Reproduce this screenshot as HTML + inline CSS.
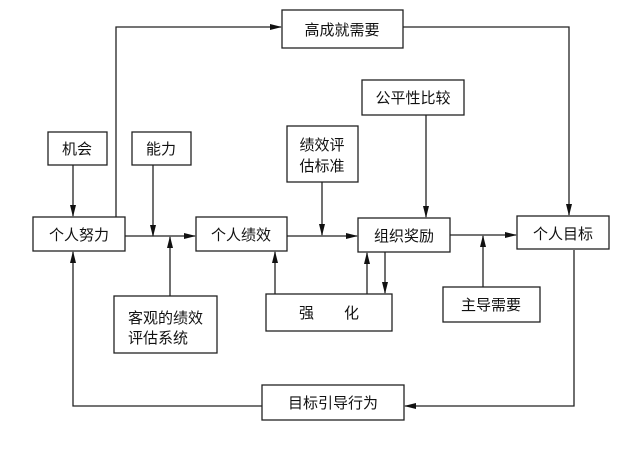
<!DOCTYPE html>
<html><head><meta charset="utf-8"><style>
html,body{margin:0;padding:0;background:#fff;}
svg text{font-family:"Liberation Sans","Noto Sans CJK SC",sans-serif;font-size:15px;fill:#111;}
</style></head><body>
<svg width="635" height="450" viewBox="0 0 635 450" xmlns="http://www.w3.org/2000/svg">
<defs><marker id="a" markerWidth="12" markerHeight="8" refX="11" refY="4" orient="auto" markerUnits="userSpaceOnUse"><path d="M0,1 L12,4 L0,7 Z" fill="#111"/></marker></defs>
<g fill="none" stroke="#222" stroke-width="1.3">
<rect x="282" y="10" width="121" height="38"/>
<rect x="48" y="132" width="59" height="33"/>
<rect x="132" y="132" width="59" height="33"/>
<rect x="287" y="126" width="71" height="56"/>
<rect x="362" y="80" width="102" height="35"/>
<rect x="33" y="217" width="92" height="34"/>
<rect x="196" y="217" width="91" height="34"/>
<rect x="358" y="218" width="92" height="34"/>
<rect x="517" y="216" width="92" height="33"/>
<rect x="114" y="296" width="103" height="57"/>
<rect x="266" y="294" width="126" height="37"/>
<rect x="443" y="287" width="97" height="35"/>
<rect x="262" y="385" width="142" height="35"/>
<path d="M116 217 V27 H281" marker-end="url(#a)"/>
<path d="M403 27 H569 V215" marker-end="url(#a)"/>
<path d="M73 165 V216" marker-end="url(#a)"/>
<path d="M153 165 V236"  marker-end="url(#a)"/>
<path d="M125 236 H195" marker-end="url(#a)"/>
<path d="M170 296 V237" marker-end="url(#a)"/>
<path d="M322 182 V235" marker-end="url(#a)"/>
<path d="M287 236 H357" marker-end="url(#a)"/>
<path d="M426 115 V217" marker-end="url(#a)"/>
<path d="M275 294 V252" marker-end="url(#a)"/>
<path d="M367 294 V253" marker-end="url(#a)"/>
<path d="M385 252 V293" marker-end="url(#a)"/>
<path d="M450 235 H516" marker-end="url(#a)"/>
<path d="M483 287 V236" marker-end="url(#a)"/>
<path d="M262 406 H73 V252" marker-end="url(#a)"/>
<path d="M574 250 V406 H405" marker-end="url(#a)"/>
</g>
<text x="342" y="35" text-anchor="middle">高成就需要</text>
<text x="77" y="154" text-anchor="middle">机会</text>
<text x="161" y="154" text-anchor="middle">能力</text>
<text x="322" y="150" text-anchor="middle">绩效评</text>
<text x="322" y="171" text-anchor="middle">估标准</text>
<text x="413" y="103" text-anchor="middle">公平性比较</text>
<text x="79" y="240" text-anchor="middle">个人努力</text>
<text x="241" y="240" text-anchor="middle">个人绩效</text>
<text x="404" y="241" text-anchor="middle">组织奖励</text>
<text x="563" y="239" text-anchor="middle">个人目标</text>
<text x="128" y="323">客观的绩效</text>
<text x="128" y="343">评估系统</text>
<text x="329" y="318" text-anchor="middle">强　　化</text>
<text x="491" y="310" text-anchor="middle">主导需要</text>
<text x="333" y="408" text-anchor="middle">目标引导行为</text>
</svg>
</body></html>
